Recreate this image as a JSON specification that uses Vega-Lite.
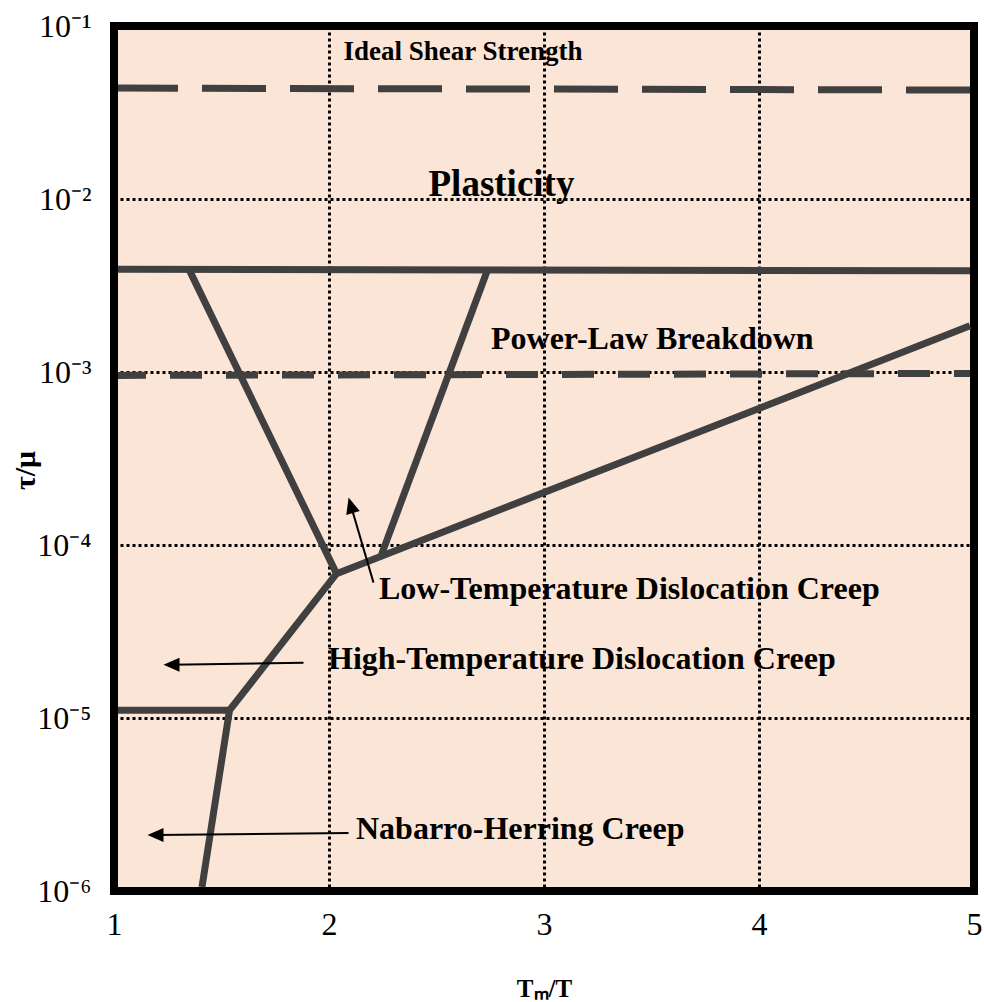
{
  "$schema": "https://vega.github.io/schema/vega-lite/v6.json",
  "width": 860,
  "height": 865,
  "autosize": {"type": "none"},
  "padding": {"left": 114, "top": 26, "right": 10, "bottom": 111},
  "background": "#ffffff",
  "config": {
    "view": {"fill": "#FBE5D6", "stroke": "#000000", "strokeWidth": 8},
    "axis": {
      "labelFont": "Liberation Serif",
      "labelFontSize": 32,
      "labelColor": "#000000",
      "titleFont": "Liberation Serif",
      "titleFontWeight": "bold",
      "titleColor": "#000000",
      "grid": true,
      "gridColor": "#000000",
      "gridDash": [3, 3],
      "gridWidth": 3,
      "gridOpacity": 1,
      "domain": false,
      "ticks": false,
      "tickSize": 0,
      "labelOverlap": false,
      "zindex": 1
    }
  },
  "datasets": {
    "boundaries": [
      {"seg": "plasticity", "x": 1.0186, "y": 0.003925},
      {"seg": "plasticity", "x": 4.9814, "y": 0.003847},
      {"seg": "ltc_left", "x": 1.3488, "y": 0.00392},
      {"seg": "ltc_left", "x": 2.0349, "y": 0.0000683},
      {"seg": "ltc_left", "x": 1.5372, "y": 0.00001108},
      {"seg": "ltc_left", "x": 1.4093, "y": 0.0000010546},
      {"seg": "ltc_right", "x": 2.7372, "y": 0.00389},
      {"seg": "ltc_right", "x": 2.2442, "y": 0.000088},
      {"seg": "htc", "x": 2.0349, "y": 0.0000683},
      {"seg": "htc", "x": 4.9814, "y": 0.001848},
      {"seg": "nh", "x": 1.0186, "y": 0.00001108},
      {"seg": "nh", "x": 1.5372, "y": 0.00001108}
    ],
    "ideal": [
      {"x": 1.0186, "y": 0.04376},
      {"x": 4.9814, "y": 0.04262}
    ],
    "plb": [
      {"x": 1.0186, "y": 0.0009556},
      {"x": 4.9814, "y": 0.000981}
    ],
    "shafts": [
      {"arrow": "ltc", "x": 2.207, "y": 0.00006059},
      {"arrow": "ltc", "x": 2.1014, "y": 0.0001697},
      {"arrow": "htc", "x": 1.8814, "y": 0.00002087},
      {"arrow": "htc", "x": 1.2674, "y": 0.00002032},
      {"arrow": "nh", "x": 2.0907, "y": 0.000002166},
      {"arrow": "nh", "x": 1.193, "y": 0.000002109}
    ],
    "headsLeft": [
      {"x": 1.2674, "y": 0.00002032},
      {"x": 1.193, "y": 0.000002109}
    ],
    "headsUp": [
      {"x": 2.1014, "y": 0.0001697}
    ],
    "regionLabels": [
      {"label": "Power-Law Breakdown", "x": 2.7535, "y": 0.001351},
      {"label": "Low-Temperature Dislocation Creep", "x": 2.2326, "y": 0.00004895},
      {"label": "High-Temperature Dislocation Creep", "x": 1.9953, "y": 0.00001926},
      {"label": "Nabarro-Herring Creep", "x": 2.1256, "y": 0.000002}
    ],
    "idealLabel": [
      {"label": "Ideal Shear Strength", "x": 2.0674, "y": 0.06355}
    ],
    "plasticityLabel": [
      {"label": "Plasticity", "x": 2.4628, "y": 0.01038}
    ]
  },
  "encoding": {
    "x": {
      "field": "x",
      "type": "quantitative",
      "scale": {"domain": [1, 5], "nice": false, "zero": false},
      "axis": {
        "values": [1, 2, 3, 4, 5],
        "title": "Tₘ/T",
        "titleFontSize": 25,
        "titleBaseline": "alphabetic",
        "titleY": 105,
        "labelFlush": false,
        "labelPadding": 18
      }
    },
    "y": {
      "field": "y",
      "type": "quantitative",
      "scale": {"type": "log", "domain": [0.000001, 0.1], "nice": false},
      "axis": {
        "values": [0.1, 0.01, 0.001, 0.0001, 0.00001, 0.000001],
        "labelExpr": "'10⁻' + ['⁰','¹','²','³','⁴','⁵','⁶'][round(-log(datum.value) / LN10)]",
        "labelAlign": "right",
        "labelBaseline": "middle",
        "labelPadding": 23,
        "title": "τ/μ",
        "titleFontSize": 30,
        "titleAngle": -90,
        "titleAlign": "center",
        "titleBaseline": "middle",
        "titleX": -89,
        "titleY": 444
      }
    }
  },
  "layer": [
    {
      "data": {"name": "boundaries"},
      "mark": {"type": "line", "color": "#404040", "strokeWidth": 7, "strokeCap": "butt", "strokeJoin": "miter"},
      "encoding": {
        "detail": {"field": "seg", "type": "nominal"},
        "order": {"value": null}
      }
    },
    {
      "data": {"name": "ideal"},
      "mark": {"type": "line", "color": "#404040", "strokeWidth": 7, "strokeDash": [64, 24], "strokeDashOffset": 4},
      "encoding": {}
    },
    {
      "data": {"name": "plb"},
      "mark": {"type": "line", "color": "#404040", "strokeWidth": 7, "strokeDash": [32, 24], "strokeDashOffset": 4},
      "encoding": {}
    },
    {
      "data": {"name": "shafts"},
      "mark": {"type": "line", "color": "#000000", "strokeWidth": 2},
      "encoding": {
        "detail": {"field": "arrow", "type": "nominal"},
        "order": {"value": null}
      }
    },
    {
      "data": {"name": "headsLeft"},
      "mark": {"type": "point", "shape": "M0,-1L0.875,1L-0.875,1Z", "filled": true, "color": "#000000", "opacity": 1, "size": 256, "angle": -90, "strokeWidth": 0}
    },
    {
      "data": {"name": "headsUp"},
      "mark": {"type": "point", "shape": "M0,-1L0.875,1L-0.875,1Z", "filled": true, "color": "#000000", "opacity": 1, "size": 256, "angle": -16, "strokeWidth": 0}
    },
    {
      "data": {"name": "regionLabels"},
      "mark": {"type": "text", "align": "left", "baseline": "alphabetic", "font": "Liberation Serif", "fontWeight": "bold", "fontSize": 32, "color": "#000000"},
      "encoding": {"text": {"field": "label", "type": "nominal"}}
    },
    {
      "data": {"name": "idealLabel"},
      "mark": {"type": "text", "align": "left", "baseline": "alphabetic", "font": "Liberation Serif", "fontWeight": "bold", "fontSize": 27, "color": "#000000"},
      "encoding": {"text": {"field": "label", "type": "nominal"}}
    },
    {
      "data": {"name": "plasticityLabel"},
      "mark": {"type": "text", "align": "left", "baseline": "alphabetic", "font": "Liberation Serif", "fontWeight": "bold", "fontSize": 37, "color": "#000000"},
      "encoding": {"text": {"field": "label", "type": "nominal"}}
    }
  ]
}
